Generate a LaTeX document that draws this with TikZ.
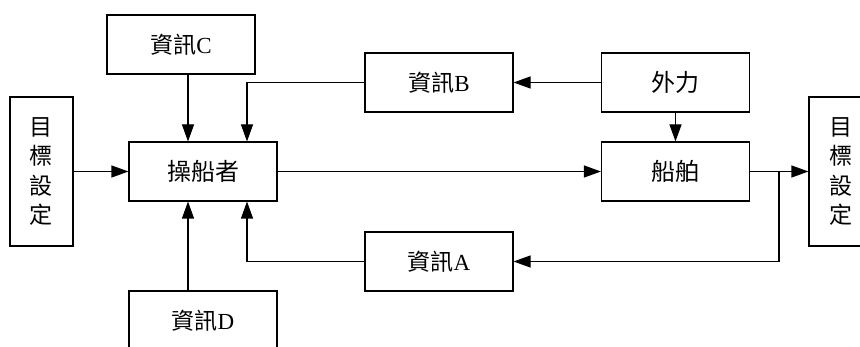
\documentclass[tikz,border=0pt]{standalone}
\usepackage{fontspec}
\setmainfont{Liberation Serif}
\newfontfamily\cjk{Noto Sans CJK TC}
\usetikzlibrary{arrows.meta}
\begin{document}
\begin{tikzpicture}[x=1pt,y=-1pt,
  box/.style={draw,line width=1.1pt,minimum width=148pt,minimum height=59pt,inner sep=0pt,font=\fontsize{23}{26}\selectfont},
  bigbox/.style={box,font=\fontsize{24}{28}\selectfont\cjk},
  vbox/.style={draw,line width=1.1pt,minimum width=63pt,minimum height=149pt,inner sep=0pt,align=center,font=\fontsize{23}{29.5}\selectfont\cjk},
  conn/.style={line width=1.1pt,-{Triangle[length=17pt,width=12pt]}}]
\useasboundingbox (0,0) rectangle (860,347);
\clip (0,0) rectangle (860,347);
\node[vbox] (goalL) at (41.5,171.5) {目\\標\\設\\定};
\node[vbox] (goalR) at (840.5,171.5) {目\\標\\設\\定};
\node[box] (C) at (181,44.5) {{\cjk 資訊}C};
\node[bigbox] (op) at (203,171.5) {操船者};
\node[box] (D) at (203,320.5) {{\cjk 資訊}D};
\node[box] (B) at (439,82.5) {{\cjk 資訊}B};
\node[box] (A) at (439,261.5) {{\cjk 資訊}A};
\node[bigbox] (F) at (675.5,82.5) {外力};
\node[bigbox] (ship) at (675.5,171.5) {船舶};
\coordinate (br) at (779,171.5);
\draw[conn] (goalL) -- (op);
\draw[conn] (C.south -| 188,0) -- (op.north -| 188,0);
\draw[conn] (D.north -| 188,0) -- (op.south -| 188,0);
\draw[conn] (B.west) -| (op.north -| 247,0);
\draw[conn] (A.west) -| (op.south -| 247,0);
\draw[conn] (F.west) -- (B.east);
\draw[conn] (F) -- (ship);
\draw[conn] (op) -- (ship);
\draw[conn] (ship.east) -- (goalR.west);
\draw[conn] (br) |- (A.east);
\end{tikzpicture}
\end{document}
